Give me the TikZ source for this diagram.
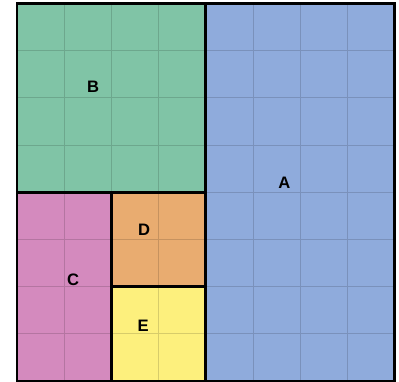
\documentclass[tikz,border=0pt]{standalone}
\usepackage{fontspec}
\setmainfont{Liberation Sans}
\definecolor{fillA}{HTML}{8FABDC}
\definecolor{fillB}{HTML}{80C4A6}
\definecolor{fillC}{HTML}{D48ABE}
\definecolor{fillD}{HTML}{E9AC70}
\definecolor{fillE}{HTML}{FDF07D}
\begin{document}
\begin{tikzpicture}[line cap=rect, line join=miter,
    cella/.style={line width=0.5pt, color=#1!85!black},
    bordo/.style={line width=1.7pt, black},
    etichetta/.style={font=\fontsize{10}{12}\selectfont\bfseries, inner sep=0pt}]

    \useasboundingbox (-0.36,-0.02) rectangle (8.09,8.07);

    % Riempimento delle regioni
    \fill[fillA] (4,0) rectangle (8,8);
    \fill[fillB] (0,4) rectangle (4,8);
    \fill[fillC] (0,0) rectangle (2,4);
    \fill[fillD] (2,2) rectangle (4,4);
    \fill[fillE] (2,0) rectangle (4,2);

    % Griglia interna (passo 1)
    \draw[cella=fillA, step=1] (4,0) grid (8,8);
    \draw[cella=fillB, step=1] (0,4) grid (4,8);
    \draw[cella=fillC, step=1] (0,0) grid (2,4);
    \draw[cella=fillD, step=1] (2,2) grid (4,4);
    \draw[cella=fillE, step=1] (2,0) grid (4,2);

    % Bordi delle regioni
    \draw[bordo] (0,0) rectangle (8,8);
    \draw[bordo] (4,0) -- (4,8);
    \draw[bordo] (0,4) -- (4,4);
    \draw[bordo] (2,0) -- (2,4);
    \draw[bordo] (2,2) -- (4,2);

    % Etichette
    \node[etichetta] (labA) at (5.66,4.19) {A};
    \node[etichetta] (labB) at (1.61,6.23) {B};
    \node[etichetta] (labC) at (1.19,2.14) {C};
    \node[etichetta] (labD) at (2.69,3.20) {D};
    \node[etichetta] (labE) at (2.67,1.17) {E};

\end{tikzpicture}
\end{document}
